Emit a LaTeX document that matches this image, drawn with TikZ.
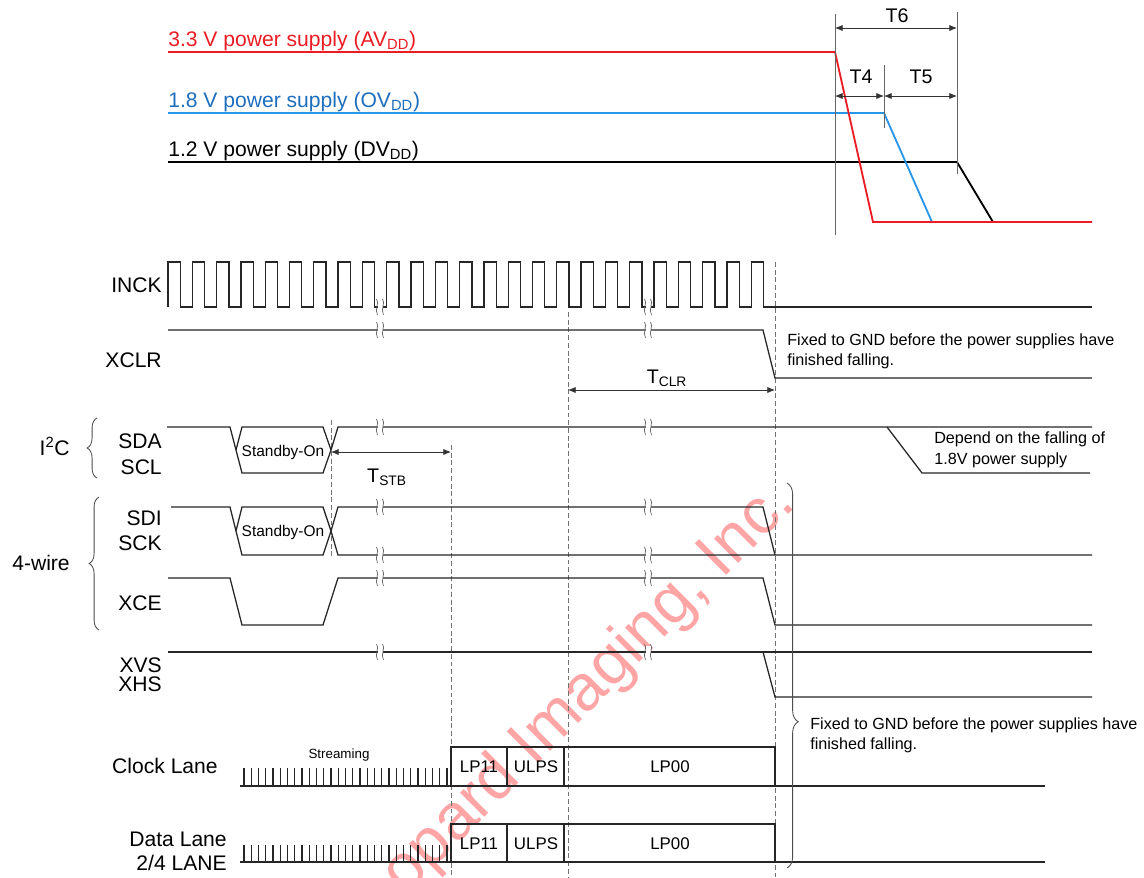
\documentclass[tikz,border=0pt]{standalone}
\usepackage{fontspec}
\setmainfont{Liberation Sans}
\usetikzlibrary{arrows.meta,decorations.pathreplacing}

\definecolor{avddred}{RGB}{236,28,36}
\definecolor{ovddblue}{RGB}{40,150,235}
\definecolor{ovddtext}{RGB}{30,110,190}
\definecolor{wmpink}{RGB}{255,165,165}

% break mark on a signal line
\newcommand{\sigbreak}[2]{%
  \fill[white] (#1-2.5,#2-6) rectangle (#1+2.5,#2+6);
  \draw[brkline] (#1-3.5,#2-8) .. controls (#1,#2-4) and (#1-6,#2+2) .. (#1-2.5,#2+8);
  \draw[brkline] (#1+2.5,#2-8) .. controls (#1+6,#2-4) and (#1,#2+2) .. (#1+3.5,#2+8);
}

\begin{document}
\begin{tikzpicture}[x=0.025cm, y=-0.025cm]
  \tikzset{
    sig/.style={draw=black!85, line width=0.9pt, line join=miter},
    supply/.style={line width=1.3pt},
    guide/.style={draw=black!60, line width=0.6pt},
    dashguide/.style={draw=black!55, line width=0.6pt, dash pattern=on 3.5pt off 2pt},
    dimarrow/.style={draw=black!80, line width=0.6pt, {Latex[length=5.5pt,width=4.5pt]}-{Latex[length=5.5pt,width=4.5pt]}},
    lbl/.style={font=\fontsize{15}{18}\selectfont, inner sep=0pt},
    tlbl/.style={font=\fontsize{14}{16}\selectfont, inner sep=0pt, anchor=base},
    note/.style={font=\fontsize{11.5}{14}\selectfont, inner sep=0pt, anchor=base west},
    boxlbl/.style={font=\fontsize{12}{14}\selectfont, inner sep=0pt, anchor=base},
    stby/.style={font=\fontsize{11}{13}\selectfont, inner sep=0pt, anchor=base},
    brkline/.style={draw=black!60, line width=0.5pt},
    wm/.style={font=\fontsize{46}{48}\selectfont, text=wmpink, inner sep=0pt},
    grp/.style={draw=black!70, line width=0.6pt, decorate, decoration={brace, amplitude=7pt}}
  }

  \fill[white] (0,0) rectangle (1144,877);
  \useasboundingbox (0,0) rectangle (1144,877);

  % Watermark
  \node[wm, rotate=45, anchor=base east] (wmark) at (797,505) {Leopard Imaging, Inc.};

  % Power supplies
  \draw[supply, black] (168,162) -- (957,162) -- (993,222);
  \draw[supply, ovddblue] (168,113) -- (884,113) -- (932,222);
  \draw[supply, avddred] (168,52) -- (835,52) -- (873,222) -- (1092,222);
  \node[lbl, anchor=base west, text=avddred] (avdd) at (168,46) {3.3 V power supply (AV\textsubscript{DD})};
  \node[lbl, anchor=base west, text=ovddtext] (ovdd) at (168,107) {1.8 V power supply (OV\textsubscript{DD})};
  \node[lbl, anchor=base west] (dvdd) at (168,156) {1.2 V power supply (DV\textsubscript{DD})};

  % T4, T5, T6
  \draw[guide] (835,14) -- (835,235);
  \draw[guide] (884,65) -- (884,128);
  \draw[guide] (957,12) -- (957,174);
  \coordinate (ta) at (835,28); \coordinate (tb) at (957,28);
  \coordinate (tc) at (835,96); \coordinate (td) at (884,96); \coordinate (te) at (957,96);
  \draw[dimarrow] (ta) -- (tb);
  \draw[dimarrow] (tc) -- (td);
  \draw[dimarrow] (td) -- (te);
  \node[tlbl] (t6) at (897,22) {T6};
  \node[tlbl] (t4) at (861,83) {T4};
  \node[tlbl] (t5) at (921,83) {T5};

  % Dashed guides
  \draw[dashguide] (331,420) -- (331,558);
  \draw[dashguide] (451,445) -- (451,877);
  \draw[dashguide] (568,312) -- (568,877);
  \draw[dashguide] (775,262) -- (775,877);

  % INCK
  \draw[sig] (168,307) \foreach \k in {1,...,25} { -- ++(0,-45) -- ++(12.3,0) -- ++(0,45) -- ++(12,0) } -- (1092,307);
  % XCLR
  \draw[sig] (168,330) -- (763,330) -- (775,378) -- (1092,378);
  % SDA / SCL
  \draw[sig] (167,427) -- (230,427) -- (242,473) -- (323,473) -- (331,450) -- (338,427) -- (1092,427);
  \draw[sig] (236,450) -- (242,427) -- (323,427) -- (331,450);
  \draw[sig] (887,427) -- (922,473) -- (1090,473);
  % SDI / SCK
  \draw[sig] (171,507) -- (230,507) -- (242,555) -- (323,555) -- (331,531) -- (338,507) -- (763,507) -- (775,555);
  \draw[sig] (236,531) -- (242,507) -- (323,507) -- (331,531) -- (338,555) -- (1092,555);
  % XCE
  \draw[sig] (168,578) -- (230,578) -- (242,625) -- (323,625) -- (338,578) -- (763,578) -- (775,625) -- (1092,625);
  % XVS / XHS
  \draw[sig] (168,652) -- (1092,652);
  \draw[sig] (763,652) -- (775,697) -- (1092,697);

  % Break marks
  \foreach \bx in {380,648} {
    \foreach \by in {307,330,427,507,555,578,652} { \sigbreak{\bx}{\by} }
  }

  % TCLR and TSTB
  \coordinate (clra) at (568,390); \coordinate (clrb) at (775,390);
  \coordinate (stba) at (331,452); \coordinate (stbb) at (451,452);
  \draw[dimarrow] (clra) -- (clrb);
  \draw[dimarrow] (stba) -- (stbb);
  \node[tlbl] (tclr) at (667,383) {T\textsubscript{CLR}};
  \node[tlbl] (tstb) at (387,482) {T\textsubscript{STB}};

  % Clock lane
  \draw[sig] (240,786) -- (1045,786);
  \foreach \k in {0,...,28} \draw[sig, line width=0.9pt] (244+7.25*\k,768) -- ++(0,18);
  \draw[sig] (451,786) -- (451,747) -- (775,747) -- (775,786);
  \draw[sig] (507,747) -- (507,786);
  \draw[sig] (564,747) -- (564,786);

  % Data lane
  \draw[sig] (240,862) -- (1045,862);
  \foreach \k in {0,...,28} \draw[sig, line width=0.9pt] (244+7.25*\k,845) -- ++(0,17);
  \draw[sig] (451,862) -- (451,824) -- (775,824) -- (775,862);
  \draw[sig] (507,824) -- (507,862);
  \draw[sig] (564,824) -- (564,862);

  % Braces
  \draw[grp] (97,478) -- (97,418);
  \draw[grp] (99,630) -- (99,497);
  \draw[grp, decoration={brace, amplitude=8pt, aspect=0.62}] (787,483) -- (787,868);

  % Signal names
  \node[lbl, anchor=base east] (inck) at (162,292) {INCK};
  \node[lbl, anchor=base east] (xclr) at (162,367) {XCLR};
  \node[lbl, anchor=base east] (sda) at (162,448) {SDA};
  \node[lbl, anchor=base east] (scl) at (162,474) {SCL};
  \node[lbl, anchor=base east] (sdi) at (162,525) {SDI};
  \node[lbl, anchor=base east] (sck) at (162,550) {SCK};
  \node[lbl, anchor=base east] (xce) at (162,610) {XCE};
  \node[lbl, anchor=base east] (xvs) at (162,672) {XVS};
  \node[lbl, anchor=base east] (xhs) at (162,691) {XHS};
  \node[lbl, anchor=base east] (clk) at (218,773) {Clock Lane};
  \node[lbl, anchor=base east] (dat) at (227,846) {Data Lane};
  \node[lbl, anchor=base east] (datn) at (227,870) {2/4 LANE};
  \node[lbl, anchor=base east] (i2c) at (70,455) {I\textsuperscript{2}C};
  \node[lbl, anchor=base east] (fourw) at (70,570) {4-wire};

  % State labels
  \node[stby] (stbya) at (283,456) {Standby-On};
  \node[stby] (stbyb) at (283,536) {Standby-On};
  \node[font=\fontsize{9.5}{11}\selectfont, inner sep=0pt, anchor=base] (strm) at (339,758) {Streaming};
  \node[boxlbl] (clp11) at (479,772) {LP11};
  \node[boxlbl] (culps) at (536,772) {ULPS};
  \node[boxlbl] (clp00) at (670,772) {LP00};
  \node[boxlbl] (dlp11) at (479,849) {LP11};
  \node[boxlbl] (dulps) at (536,849) {ULPS};
  \node[boxlbl] (dlp00) at (670,849) {LP00};

  % Notes
  \node[note] (fixa1) at (787,345) {Fixed to GND before the power supplies have};
  \node[note] (fixa2) at (787,365) {finished falling.};
  \node[note] (dep1) at (934,443) {Depend on the falling of};
  \node[note] (dep2) at (934,464) {1.8V power supply};
  \node[note] (fixb1) at (810,729) {Fixed to GND before the power supplies have};
  \node[note] (fixb2) at (810,749) {finished falling.};

\end{tikzpicture}
\end{document}
